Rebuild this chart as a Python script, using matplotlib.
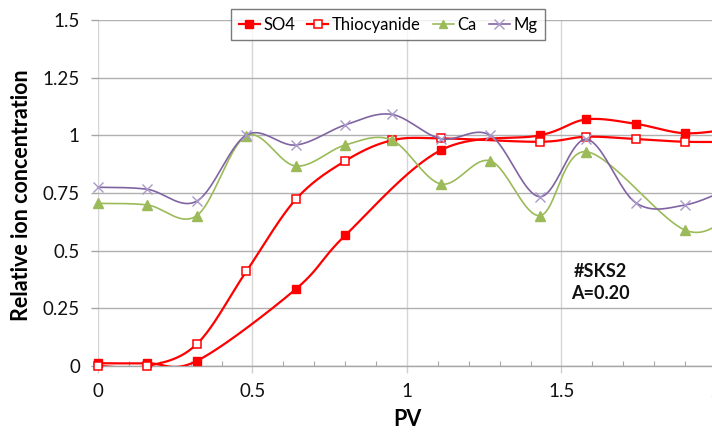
import numpy as np
import matplotlib
matplotlib.use("Agg")
import matplotlib.pyplot as plt
from matplotlib.ticker import MultipleLocator, FixedLocator

plt.rcParams['font.family'] = ['Lato', 'DejaVu Sans']

# Pore volumes at which samples were taken
pv = [0.0, 0.16, 0.32, 0.48, 0.64, 0.80, 0.95, 1.11, 1.27, 1.43, 1.58, 1.74, 1.90, 2.06]

# Relative concentrations (None = not measured)
so4 = [0.012, 0.012, 0.022, None, 0.333, 0.566, None, 0.936, None, 1.000, 1.069, 1.050, 1.009, 1.030]
thiocyanide = [0.000, 0.000, 0.095, 0.410, 0.722, 0.889, 0.978, 0.987, None, 0.972, 0.994, 0.984, 0.972, 0.972]
ca = [0.705, 0.698, 0.652, 0.998, 0.867, 0.958, 0.980, 0.789, 0.889, 0.652, 0.929, None, 0.589, 0.670]
mg = [0.775, 0.766, 0.715, 1.001, 0.958, 1.045, 1.091, 0.985, 1.000, 0.734, 0.983, 0.708, 0.698, 0.780]

series_names = ['SO4', 'Thiocyanide', 'Ca', 'Mg']

y_ticks = [0, 0.25, 0.5, 0.75, 1.0, 1.25, 1.5]
y_tick_labels = ['0', '0.25', '0.5', '0.75', '1', '1.25', '1.5']
x_ticks = [0, 0.5, 1.0, 1.5, 2.0]
x_tick_labels = ['0', '0.5', '1', '1.5', '2']


def smooth_curve(xs, ys, n=40):
    """Cubic Bezier smoothing through every point (Catmull-Rom style)."""
    pts = np.column_stack([xs, ys]).astype(float)
    out = [pts[0]]
    t = np.linspace(0, 1, n)[1:, None]
    for i in range(len(pts) - 1):
        p0 = pts[i - 1] if i > 0 else pts[i]
        p1 = pts[i]
        p2 = pts[i + 1]
        p3 = pts[i + 2] if i + 2 < len(pts) else pts[i + 1]
        c1 = p1 + (p2 - p0) / 6.0
        c2 = p2 - (p3 - p1) / 6.0
        seg = ((1 - t) ** 3) * p1 + 3 * ((1 - t) ** 2) * t * c1 \
            + 3 * (1 - t) * (t ** 2) * c2 + (t ** 3) * p2
        out.extend(seg)
    return np.array(out)


fig = plt.figure(figsize=(7.12, 4.34), dpi=100)
ax = fig.add_axes([0.1376, 0.1567, 0.8680, 0.7972])

styles = [
    dict(color='#FF0000', lw=1.6, marker='s', ms=6, mfc='#FF0000', mec='#FF0000', mew=1.0),
    dict(color='#FF0000', lw=1.6, marker='s', ms=6, mfc='white', mec='#FF0000', mew=1.1),
    dict(color='#9BBB59', lw=1.2, marker='^', ms=6.5, mfc='#9BBB59', mec='#9BBB59', mew=1.0),
    dict(color='#8064A2', lw=1.2, marker='x', ms=7, mfc='#A899C9', mec='#A899C9', mew=1.0),
]

handles = []
for z, (name, vals, st) in enumerate(zip(series_names, [so4, thiocyanide, ca, mg], styles)):
    xs = [p for p, v in zip(pv, vals) if v is not None]
    ys = [v for v in vals if v is not None]
    curve = smooth_curve(xs, ys)
    ax.plot(curve[:, 0], curve[:, 1], color=st['color'], lw=st['lw'],
            zorder=3 + z, solid_capstyle='round')
    ax.plot(xs, ys, ls='none', marker=st['marker'], ms=st['ms'],
            mfc=st['mfc'], mec=st['mec'], mew=st['mew'], zorder=3 + z, clip_on=False)
    h, = ax.plot([], [], color=st['color'], lw=st['lw'], marker=st['marker'],
                 ms=st['ms'] - 0.5, mfc=st['mfc'], mec=st['mec'], mew=st['mew'])
    handles.append(h)

ax.set_xlim(0, 2)
ax.set_ylim(0, 1.5)

# Axis styling
for s in ['top', 'right', 'left']:
    ax.spines[s].set_visible(False)
ax.spines['bottom'].set_color('#A6A6A6')
ax.spines['bottom'].set_linewidth(1.0)

ax.yaxis.set_major_locator(FixedLocator(y_ticks))
ax.set_yticklabels(y_tick_labels)
ax.xaxis.set_major_locator(FixedLocator(x_ticks))
ax.set_xticklabels(x_tick_labels)
ax.xaxis.set_minor_locator(MultipleLocator(0.1))

ax.tick_params(axis='y', which='major', direction='out', length=5, width=1.0,
               color='#A6A6A6', pad=8, labelsize=13.5, labelcolor='#111111')
ax.tick_params(axis='x', which='major', direction='out', length=5, width=1.0,
               color='#D0D0D0', pad=7, labelsize=13.5, labelcolor='#111111')
ax.tick_params(axis='x', which='minor', direction='in', length=3.5, width=0.8,
               color='#A6A6A6')

ax.grid(axis='y', which='major', color='#B0B0B0', lw=1.0)
ax.grid(axis='x', which='major', color='#D6D6D6', lw=1.0)
ax.set_axisbelow(True)

ax.set_xlabel('PV', fontsize=15.5, fontweight='bold', va='center')
ax.xaxis.set_label_coords(0.5, -0.156)
ax.set_ylabel('Relative ion concentration', fontsize=15.5, fontweight='bold', va='center')
ax.yaxis.set_label_coords(-0.123, 0.494)

ax.text(1.625, 0.362, '#SKS2\nA=0.20', ha='center', va='center',
        fontsize=13, fontweight='bold', linespacing=1.4, color='#111111')

leg = fig.legend(handles, series_names, loc='upper center', ncol=4,
                 bbox_to_anchor=(0.545, 0.9786), fontsize=12, frameon=True,
                 fancybox=False, handlelength=1.25, handletextpad=0.2,
                 columnspacing=0.75, borderpad=0.45, borderaxespad=0.0)
leg.get_frame().set_edgecolor('#595959')
leg.get_frame().set_linewidth(1.0)
leg.get_frame().set_facecolor('white')

fig.savefig('out.png', dpi=100)
